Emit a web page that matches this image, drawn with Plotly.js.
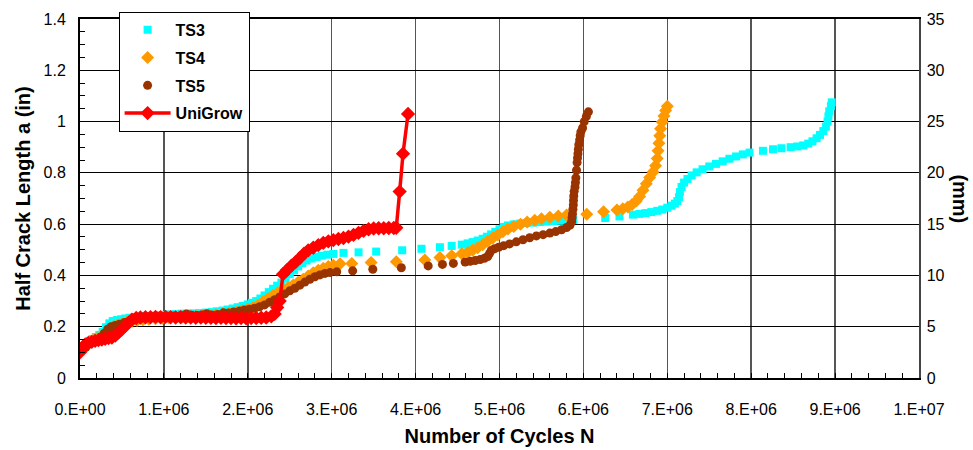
<!DOCTYPE html>
<html>
<head>
<meta charset="utf-8">
<script src="https://cdn.plot.ly/plotly-3.0.1.min.js"></script>
<style>html,body{margin:0;padding:0;background:#fff;}#chart{width:973px;height:450px;}</style>
</head>
<body>
<div id="chart"></div>
<script>
// ---- data (cycles, half crack length in inches) ----
const ts3Cycles = [0.03e6,0.07e6,0.11e6,0.15e6,0.19e6,0.23e6,0.27e6,0.31e6,0.35e6,0.39e6,0.44e6,0.49e6,0.54e6,0.59e6,0.65e6,0.71e6,0.77e6,0.83e6,0.89e6,0.95e6,1.01e6,1.07e6,1.14e6,1.21e6,1.28e6,1.35e6,1.43e6,1.5e6,1.57e6,1.63e6,1.7e6,1.76e6,1.82e6,1.88e6,1.94e6,2.0e6,2.05e6,2.1e6,2.15e6,2.2e6,2.25e6,2.3e6,2.35e6,2.4e6,2.45e6,2.5e6,2.55e6,2.6e6,2.65e6,2.7e6,2.76e6,2.82e6,2.88e6,2.95e6,3.02e6,3.14e6,3.32e6,3.53e6,3.84e6,4.07e6,4.29e6,4.43e6,4.55e6,4.62e6,4.68e6,4.74e6,4.8e6,4.85e6,4.9e6,4.95e6,5.0e6,5.05e6,5.1e6,5.17e6,5.24e6,5.32e6,5.4e6,5.48e6,5.56e6,5.64e6,5.72e6,5.8e6,5.88e6,6.26e6,6.43e6,6.59e6,6.67e6,6.74e6,6.81e6,6.88e6,6.94e6,7.0e6,7.05e6,7.09e6,7.12e6,7.14e6,7.15e6,7.17e6,7.2e6,7.24e6,7.29e6,7.35e6,7.42e6,7.5e6,7.58e6,7.66e6,7.74e6,7.82e6,7.9e6,7.98e6,8.14e6,8.26e6,8.36e6,8.47e6,8.55e6,8.62e6,8.68e6,8.73e6,8.78e6,8.82e6,8.86e6,8.89e6,8.91e6,8.92e6,8.93e6,8.95e6,8.96e6];
const ts3Length = [0.12,0.135,0.145,0.152,0.16,0.168,0.18,0.198,0.213,0.222,0.226,0.229,0.232,0.235,0.238,0.239,0.241,0.242,0.243,0.245,0.246,0.248,0.249,0.251,0.251,0.252,0.253,0.255,0.257,0.26,0.263,0.267,0.271,0.276,0.281,0.287,0.293,0.3,0.31,0.322,0.335,0.348,0.36,0.372,0.388,0.405,0.42,0.435,0.448,0.458,0.466,0.472,0.477,0.481,0.484,0.488,0.49,0.493,0.498,0.504,0.51,0.515,0.52,0.525,0.53,0.536,0.543,0.551,0.56,0.57,0.58,0.589,0.595,0.599,0.602,0.604,0.606,0.608,0.61,0.612,0.613,0.614,0.616,0.624,0.63,0.637,0.64,0.643,0.647,0.652,0.657,0.664,0.672,0.68,0.69,0.705,0.725,0.745,0.762,0.776,0.79,0.802,0.814,0.825,0.835,0.845,0.855,0.864,0.872,0.879,0.886,0.892,0.896,0.9,0.903,0.907,0.914,0.923,0.935,0.948,0.963,0.98,1.0,1.02,1.04,1.06,1.075];

const ts4Cycles = [0.03e6,0.07e6,0.11e6,0.15e6,0.2e6,0.25e6,0.3e6,0.35e6,0.4e6,0.45e6,0.5e6,0.56e6,0.62e6,0.68e6,0.75e6,0.82e6,0.9e6,0.98e6,1.06e6,1.14e6,1.22e6,1.3e6,1.38e6,1.46e6,1.54e6,1.62e6,1.7e6,1.78e6,1.86e6,1.93e6,2.0e6,2.06e6,2.12e6,2.18e6,2.24e6,2.3e6,2.36e6,2.42e6,2.48e6,2.54e6,2.6e6,2.66e6,2.72e6,2.78e6,2.84e6,2.9e6,2.96e6,3.02e6,3.1e6,3.24e6,3.47e6,3.77e6,4.11e6,4.29e6,4.43e6,4.55e6,4.62e6,4.68e6,4.74e6,4.8e6,4.86e6,4.92e6,4.98e6,5.04e6,5.1e6,5.17e6,5.25e6,5.33e6,5.42e6,5.5e6,5.6e6,5.7e6,5.8e6,6.04e6,6.24e6,6.4e6,6.47e6,6.53e6,6.58e6,6.63e6,6.67e6,6.71e6,6.75e6,6.79e6,6.83e6,6.86e6,6.88e6,6.89e6,6.9e6,6.91e6,6.92e6,6.94e6,6.96e6,6.98e6,7.0e6];
const ts4Length = [0.11,0.125,0.138,0.146,0.153,0.162,0.175,0.19,0.202,0.208,0.212,0.217,0.221,0.224,0.227,0.229,0.231,0.233,0.235,0.236,0.238,0.239,0.241,0.243,0.245,0.247,0.25,0.253,0.257,0.262,0.268,0.275,0.284,0.296,0.31,0.322,0.333,0.343,0.353,0.363,0.373,0.385,0.398,0.41,0.42,0.428,0.435,0.44,0.446,0.447,0.45,0.453,0.46,0.47,0.477,0.485,0.49,0.498,0.508,0.52,0.533,0.546,0.558,0.57,0.581,0.591,0.6,0.608,0.615,0.621,0.627,0.632,0.636,0.639,0.648,0.655,0.66,0.667,0.677,0.69,0.708,0.732,0.758,0.782,0.803,0.828,0.856,0.886,0.915,0.945,0.972,0.998,1.022,1.043,1.06];

const ts5Cycles = [0.03e6,0.07e6,0.11e6,0.15e6,0.2e6,0.25e6,0.29e6,0.33e6,0.37e6,0.42e6,0.47e6,0.53e6,0.59e6,0.65e6,0.72e6,0.8e6,0.88e6,0.96e6,1.04e6,1.12e6,1.2e6,1.27e6,1.33e6,1.4e6,1.46e6,1.51e6,1.57e6,1.64e6,1.71e6,1.77e6,1.83e6,1.9e6,1.96e6,2.02e6,2.08e6,2.14e6,2.2e6,2.26e6,2.32e6,2.38e6,2.44e6,2.5e6,2.56e6,2.62e6,2.68e6,2.74e6,2.8e6,2.86e6,2.92e6,2.98e6,3.06e6,3.25e6,3.49e6,3.83e6,4.15e6,4.32e6,4.45e6,4.59e6,4.65e6,4.71e6,4.77e6,4.82e6,4.86e6,4.88e6,4.9e6,4.94e6,4.99e6,5.05e6,5.12e6,5.2e6,5.28e6,5.36e6,5.44e6,5.52e6,5.6e6,5.67e6,5.74e6,5.8e6,5.84e6,5.86e6,5.865e6,5.87e6,5.875e6,5.88e6,5.882e6,5.885e6,5.89e6,5.9e6,5.905e6,5.91e6,5.918e6,5.925e6,5.93e6,5.935e6,5.94e6,5.945e6,5.955e6,5.962e6,5.97e6,5.99e6,6.01e6,6.035e6,6.06e6];
const ts5Length = [0.108,0.12,0.132,0.142,0.15,0.16,0.175,0.19,0.2,0.205,0.21,0.216,0.222,0.228,0.233,0.237,0.239,0.24,0.241,0.242,0.244,0.25,0.245,0.244,0.246,0.251,0.246,0.248,0.254,0.253,0.257,0.261,0.265,0.268,0.272,0.278,0.285,0.295,0.305,0.316,0.328,0.34,0.35,0.362,0.374,0.385,0.395,0.402,0.408,0.411,0.414,0.418,0.424,0.43,0.437,0.443,0.447,0.452,0.455,0.458,0.462,0.467,0.474,0.485,0.497,0.504,0.51,0.516,0.523,0.531,0.539,0.547,0.554,0.559,0.565,0.571,0.578,0.587,0.596,0.61,0.625,0.64,0.658,0.675,0.692,0.71,0.728,0.745,0.762,0.78,0.81,0.84,0.858,0.875,0.892,0.91,0.928,0.945,0.96,0.975,1.0,1.02,1.038,1.055,1.068];

const uniCycles = [0,0.03e6,0.06e6,0.1e6,0.14e6,0.18e6,0.22e6,0.26e6,0.3e6,0.34e6,0.38e6,0.42e6,0.46e6,0.5e6,0.54e6,0.58e6,0.62e6,0.67e6,0.72e6,0.78e6,0.84e6,0.9e6,0.96e6,1.02e6,1.08e6,1.14e6,1.2e6,1.26e6,1.32e6,1.38e6,1.44e6,1.5e6,1.56e6,1.62e6,1.68e6,1.74e6,1.8e6,1.86e6,1.92e6,1.98e6,2.04e6,2.1e6,2.16e6,2.22e6,2.28e6,2.32e6,2.35e6,2.38e6,2.42e6,2.47e6,2.52e6,2.57e6,2.62e6,2.67e6,2.72e6,2.78e6,2.84e6,2.9e6,2.96e6,3.02e6,3.08e6,3.14e6,3.2e6,3.26e6,3.32e6,3.38e6,3.44e6,3.5e6,3.56e6,3.62e6,3.68e6,3.74e6,3.77e6,3.81e6,3.85e6,3.91e6];
const uniLength = [0.1,0.118,0.13,0.137,0.141,0.145,0.148,0.15,0.153,0.156,0.158,0.165,0.178,0.19,0.203,0.216,0.228,0.234,0.236,0.237,0.237,0.238,0.237,0.238,0.237,0.236,0.237,0.236,0.236,0.235,0.236,0.235,0.235,0.234,0.235,0.234,0.234,0.233,0.234,0.233,0.234,0.234,0.235,0.236,0.24,0.25,0.275,0.3,0.405,0.422,0.438,0.452,0.468,0.485,0.498,0.508,0.518,0.527,0.533,0.538,0.542,0.546,0.551,0.558,0.566,0.574,0.58,0.583,0.584,0.584,0.585,0.585,0.586,0.727,0.875,1.03];

const xTickVals = [0,1e6,2e6,3e6,4e6,5e6,6e6,7e6,8e6,9e6,1e7];
const xTickLabels = ['0.E+00','1.E+06','2.E+06','3.E+06','4.E+06','5.E+06','6.E+06','7.E+06','8.E+06','9.E+06','1.E+07'];
const seriesNames = ['TS3','TS4','TS5','UniGrow'];

const FONT = 'Liberation Sans, Arial, Helvetica, sans-serif';

const traces = [
  {x: ts3Cycles, y: ts3Length, name: '<b>' + seriesNames[0] + '</b>', legendgroup: 'a', mode: 'markers', type: 'scatter',
   marker: {symbol: 'square', size: 8, color: '#00FFFF'}},
  {x: ts4Cycles, y: ts4Length, name: '<b>' + seriesNames[1] + '</b>', legendgroup: 'b', mode: 'markers', type: 'scatter',
   marker: {symbol: 'diamond', size: 10, color: '#FF9900'}},
  {x: ts5Cycles, y: ts5Length, name: '<b>' + seriesNames[2] + '</b>', legendgroup: 'c', mode: 'markers', type: 'scatter',
   marker: {symbol: 'circle', size: 9, color: '#993300'}},
  {x: uniCycles, y: uniLength, name: '<b>' + seriesNames[3] + '</b>', legendgroup: 'd', mode: 'lines+markers', type: 'scatter',
   line: {color: '#FF0000', width: 3.5}, marker: {symbol: 'diamond', size: 11, color: '#FF0000'}},
  {x: [0], y: [0], yaxis: 'y2', mode: 'markers', marker: {opacity: 0}, showlegend: false, hoverinfo: 'skip'}
];

const layout = {
  width: 973, height: 450,
  margin: {l: 80, r: 54, t: 16, b: 72},
  paper_bgcolor: '#fff', plot_bgcolor: '#fff',
  font: {family: FONT, size: 15, color: '#000'},
  showlegend: true,
  legend: {
    x: 0.046, y: 1.02, xanchor: 'left', yanchor: 'top',
    bgcolor: '#fff', bordercolor: '#000', borderwidth: 1,
    font: {family: FONT, size: 16, color: '#000'},
    tracegroupgap: 4, itemwidth: 46
  },
  xaxis: {
    range: [0, 1e7], tickvals: xTickVals, ticktext: xTickLabels,
    showgrid: true, gridcolor: '#555', gridwidth: 1.5,
    showline: true, linecolor: '#000', linewidth: 2, mirror: true,
    ticks: 'inside', ticklen: 5, tickcolor: '#000', tickwidth: 1,
    minor: {dtick: 2e5, ticks: 'inside', ticklen: 5, tickcolor: '#000', showgrid: false},
    zeroline: false, ticklabelstandoff: 16,
    tickfont: {family: FONT, size: 16, color: '#000'},
    title: {text: '<b>Number of Cycles N</b>', font: {family: FONT, size: 20, color: '#000'}, standoff: 12}
  },
  yaxis: {
    range: [0, 1.4], dtick: 0.2, tick0: 0,
    showgrid: true, gridcolor: '#000', gridwidth: 1.2,
    showline: true, linecolor: '#000', linewidth: 2,
    ticks: 'inside', ticklen: 5, tickcolor: '#000',
    minor: {dtick: 0.05, ticks: 'inside', ticklen: 5, tickcolor: '#000', showgrid: false},
    zeroline: false, ticklabelstandoff: 9,
    tickfont: {family: FONT, size: 16, color: '#000'},
    title: {text: '<b>Half Crack Length a (in)</b>', font: {family: FONT, size: 20, color: '#000'}, standoff: 8}
  },
  yaxis2: {
    overlaying: 'y', side: 'right', range: [0, 35], dtick: 5, tick0: 0,
    showgrid: false, zeroline: false,
    showline: true, linecolor: '#444', linewidth: 1.5,
    ticks: '', ticklabelstandoff: 3,
    tickfont: {family: FONT, size: 16, color: '#000'}
  },
  annotations: [
    {text: '<b>(mm)</b>', xref: 'paper', yref: 'paper', x: 1.049, y: 0.5, showarrow: false,
     textangle: 90, font: {family: FONT, size: 20, color: '#000'}, xanchor: 'center', yanchor: 'middle'}
  ]
};

Plotly.newPlot('chart', traces, layout, {staticPlot: true, displayModeBar: false});
</script>
</body>
</html>
